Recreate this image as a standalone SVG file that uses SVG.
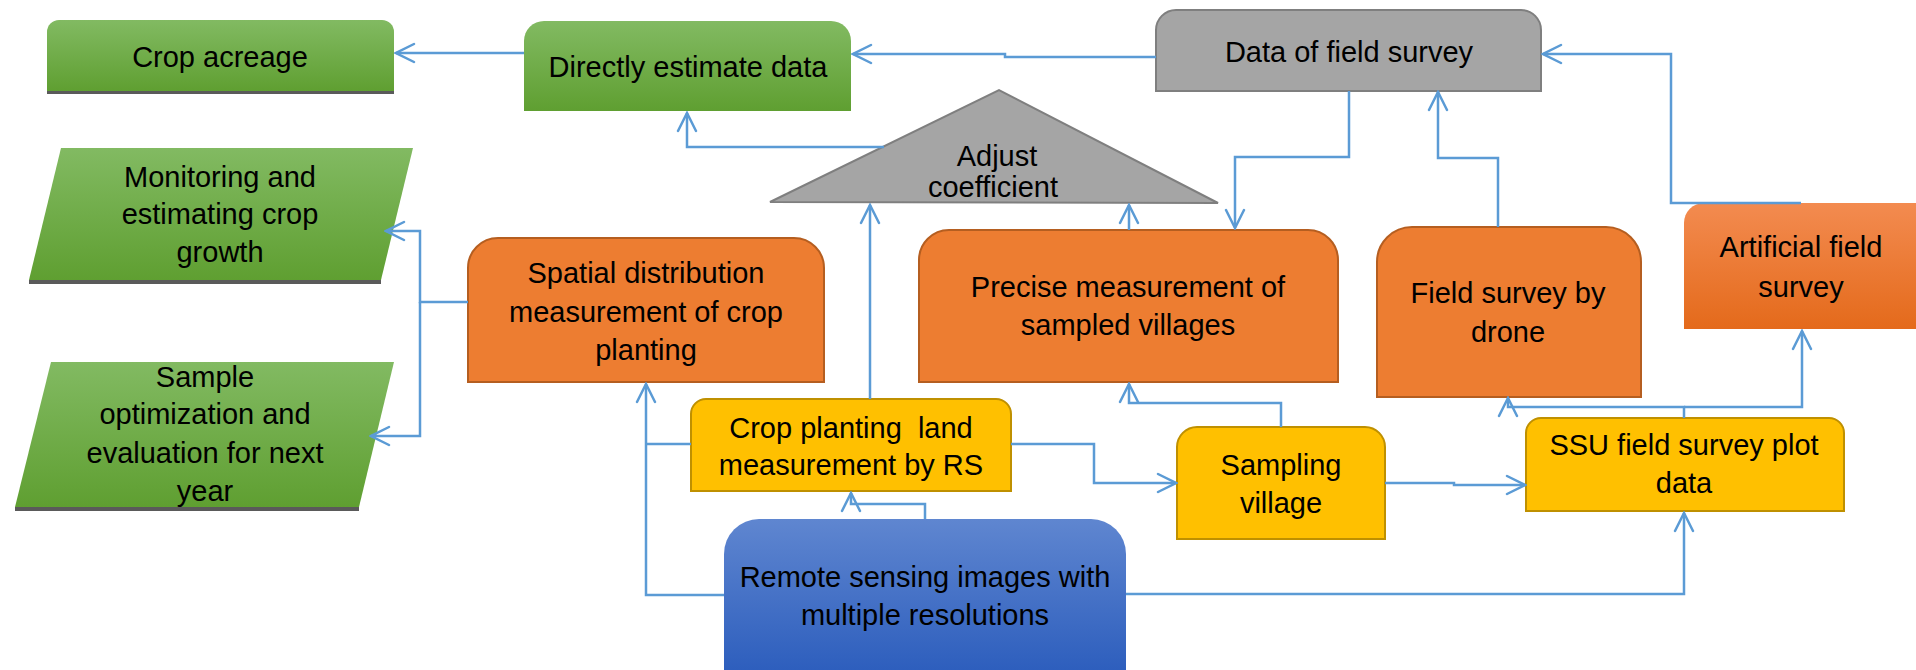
<svg xmlns="http://www.w3.org/2000/svg" width="1916" height="670" viewBox="0 0 1916 670">
<defs>
<linearGradient id="gGreen" x1="0" y1="0" x2="0" y2="1"><stop offset="0" stop-color="#82ba62"/><stop offset="1" stop-color="#5f9f31"/></linearGradient>
<linearGradient id="gBlue" x1="0" y1="0" x2="0" y2="1"><stop offset="0" stop-color="#5f86d0"/><stop offset="1" stop-color="#2d5ebd"/></linearGradient>
<linearGradient id="gOrange" x1="0" y1="0" x2="0" y2="1"><stop offset="0" stop-color="#f38b50"/><stop offset="1" stop-color="#e46a1b"/></linearGradient>
<marker id="arr" markerUnits="userSpaceOnUse" markerWidth="22" markerHeight="22" viewBox="0 0 22 22" refX="20" refY="11" orient="auto">
<path d="M2,2 L20,11 L2,20" fill="none" stroke="#5b9bd5" stroke-width="2.5" stroke-linecap="round"/>
</marker>
</defs>
<style>
text{font-family:"Liberation Sans",Arial,sans-serif;font-size:29px;fill:#000;text-anchor:middle}
.green{fill:url(#gGreen)}
.shadow{fill:#5a5a5a}
.orange{fill:#ed7d31;stroke:#b55e20;stroke-width:2}
.yellow{fill:#ffc000;stroke:#bf9000;stroke-width:2}
.gray{fill:#a5a5a5;stroke:#7f7f7f;stroke-width:2}
.con path{fill:none;stroke:#5b9bd5;stroke-width:2.5}
</style>
<rect width="1916" height="670" fill="#fff"/>

<g id="crop-acreage">
<rect class="shadow" x="47" y="86" width="347" height="8"/>
<path class="green" d="M47,91 L47,32 A12,12 0 0 1 59,20 L382,20 A12,12 0 0 1 394,32 L394,91 Z"/>
<text x="220" y="67">Crop acreage</text>
</g>

<g id="directly-estimate">
<path class="green" d="M524,111 L524,41 A20,20 0 0 1 544,21 L831,21 A20,20 0 0 1 851,41 L851,111 Z"/>
<text x="688" y="77">Directly estimate data</text>
</g>

<g id="data-field-survey">
<path class="gray" d="M1156,91 L1156,30 A20,20 0 0 1 1176,10 L1521,10 A20,20 0 0 1 1541,30 L1541,91 Z"/>
<text x="1349" y="62">Data of field survey</text>
</g>

<g id="monitoring">
<polygon class="shadow" points="29,280 381,280 381,284 29,284"/>
<polygon class="green" points="61,148 413,148 381,280 29,280"/>
<text x="220" y="187">Monitoring and</text>
<text x="220" y="224">estimating crop</text>
<text x="220" y="262">growth</text>
</g>

<g id="sample-optimization">
<polygon class="shadow" points="15,507 359,507 359,511 15,511"/>
<polygon class="green" points="51,362 394,362 359,507 15,507"/>
<text x="205" y="387">Sample</text>
<text x="205" y="424">optimization and</text>
<text x="205" y="463">evaluation for next</text>
<text x="205" y="501">year</text>
</g>

<g id="spatial-distribution">
<path class="orange" d="M468,382 L468,268 A30,30 0 0 1 498,238 L794,238 A30,30 0 0 1 824,268 L824,382 Z"/>
<text x="646" y="283">Spatial distribution</text>
<text x="646" y="322">measurement of crop</text>
<text x="646" y="360">planting</text>
</g>

<g id="crop-planting-rs">
<path class="yellow" d="M691,491 L691,414 A15,15 0 0 1 706,399 L996,399 A15,15 0 0 1 1011,414 L1011,491 Z"/>
<text x="851" y="438" xml:space="preserve">Crop planting  land</text>
<text x="851" y="475">measurement by RS</text>
</g>

<g id="remote-sensing">
<path fill="url(#gBlue)" d="M724,672 L724,554 A35,35 0 0 1 759,519 L1091,519 A35,35 0 0 1 1126,554 L1126,672 Z"/>
<text x="925" y="587">Remote sensing images with</text>
<text x="925" y="625">multiple resolutions</text>
</g>

<g id="precise-measurement">
<path class="orange" d="M919,382 L919,260 A30,30 0 0 1 949,230 L1308,230 A30,30 0 0 1 1338,260 L1338,382 Z"/>
<text x="1128" y="297">Precise measurement of</text>
<text x="1128" y="335">sampled villages</text>
</g>

<g id="field-survey-drone">
<path class="orange" d="M1377,397 L1377,262 A35,35 0 0 1 1412,227 L1606,227 A35,35 0 0 1 1641,262 L1641,397 Z"/>
<text x="1508" y="303">Field survey by</text>
<text x="1508" y="342">drone</text>
</g>

<g id="artificial-field-survey">
<path fill="url(#gOrange)" d="M1684,329 L1684,223 A20,20 0 0 1 1704,203 L1930,203 L1930,329 Z"/>
<text x="1801" y="257">Artificial field</text>
<text x="1801" y="297">survey</text>
</g>

<g id="sampling-village">
<path class="yellow" d="M1177,539 L1177,447 A20,20 0 0 1 1197,427 L1365,427 A20,20 0 0 1 1385,447 L1385,539 Z"/>
<text x="1281" y="475">Sampling</text>
<text x="1281" y="513">village</text>
</g>

<g id="ssu-plot-data">
<path class="yellow" d="M1526,511 L1526,433 A15,15 0 0 1 1541,418 L1829,418 A15,15 0 0 1 1844,433 L1844,511 Z"/>
<text x="1684" y="455">SSU field survey plot</text>
<text x="1684" y="493">data</text>
</g>

<g id="adjust-coefficient">
<polygon class="gray" points="770,202 999,90 1218,203" stroke-width="1.5"/>
<text x="997" y="166">Adjust</text>
<text x="993" y="197">coefficient</text>
</g>

<g id="connectors" class="con">
<path d="M524,53 L396,53" marker-end="url(#arr)"/>
<path d="M1156,57 L1005,57 L1005,54 L853,54" marker-end="url(#arr)"/>
<path d="M884,147 L687,147 L687,113" marker-end="url(#arr)"/>
<path d="M468,302 L420,302 L420,231 L386,231" marker-end="url(#arr)"/>
<path d="M420,302 L420,436 L371,436" marker-end="url(#arr)"/>
<path d="M724,595 L646,595 L646,384" marker-end="url(#arr)"/>
<path d="M691,444 L646,444"/>
<path d="M870,399 L870,205" marker-end="url(#arr)"/>
<path d="M925,519 L925,504 L851,504 L851,493" marker-end="url(#arr)"/>
<path d="M1349,91 L1349,157 L1235,157 L1235,228" marker-end="url(#arr)"/>
<path d="M1129,230 L1129,205" marker-end="url(#arr)"/>
<path d="M1498,227 L1498,158 L1438,158 L1438,92" marker-end="url(#arr)"/>
<path d="M1801,203 L1671,203 L1671,54 L1543,54" marker-end="url(#arr)"/>
<path d="M1011,444 L1094,444 L1094,483 L1176,483" marker-end="url(#arr)"/>
<path d="M1281,427 L1281,403 L1129,403 L1129,384" marker-end="url(#arr)"/>
<path d="M1385,483 L1454,483 L1454,485 L1525,485" marker-end="url(#arr)"/>
<path d="M1684,418 L1684,407 L1508,407 L1508,398" marker-end="url(#arr)"/>
<path d="M1684,407 L1802,407 L1802,331" marker-end="url(#arr)"/>
<path d="M1126,594 L1684,594 L1684,513" marker-end="url(#arr)"/>
</g>
</svg>
